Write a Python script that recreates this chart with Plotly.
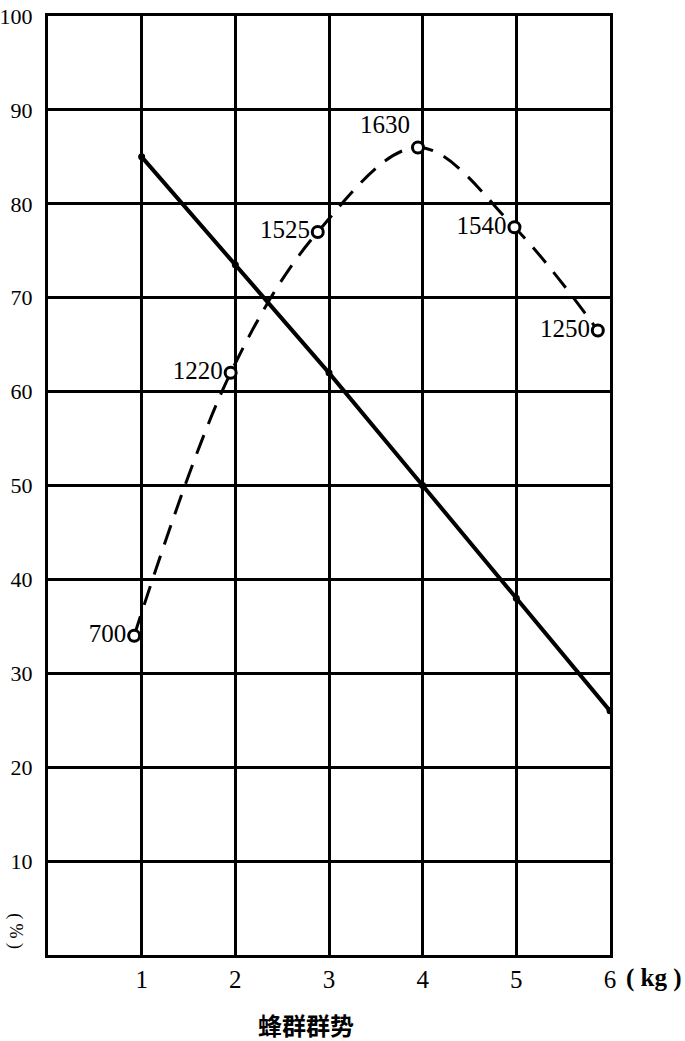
import plotly.graph_objects as go

# Solid line: straight decreasing series
solid_x = [1, 2, 3, 4, 5, 6]
solid_y = [85, 73.5, 62, 50, 38, 26]

# Dashed curve with labelled open circles
curve_x = [0.92, 1.95, 2.88, 3.95, 4.98, 5.87]
curve_y = [34, 62, 77, 86, 77.5, 66.5]
curve_labels = ["700", "1220", "1525", "1630", "1540", "1250"]
label_pos = ["middle left", "middle left", "middle left", "top left", "middle left", "middle left"]

x_ticks = [1, 2, 3, 4, 5, 6]
y_ticks = [10, 20, 30, 40, 50, 60, 70, 80, 90, 100]

SERIF = "Liberation Serif"

fig = go.Figure()

fig.add_trace(go.Scatter(
    x=solid_x, y=solid_y, mode="lines+markers",
    line=dict(color="black", width=4),
    marker=dict(color="black", size=7, symbol="circle"),
    showlegend=False, hoverinfo="skip",
))

fig.add_trace(go.Scatter(
    x=curve_x, y=curve_y, mode="lines",
    line=dict(color="black", width=3, dash="20px,12px", shape="spline", smoothing=1.0),
    showlegend=False, hoverinfo="skip",
))

fig.add_trace(go.Scatter(
    x=curve_x, y=curve_y, mode="markers+text",
    marker=dict(color="white", size=11, symbol="circle",
                line=dict(color="black", width=3)),
    text=curve_labels, textposition=label_pos,
    textfont=dict(family=SERIF, size=25, color="black"),
    showlegend=False, hoverinfo="skip", cliponaxis=False,
))

fig.update_xaxes(
    range=[0, 6], tickvals=x_ticks, ticktext=[str(v) for v in x_ticks],
    showgrid=True, gridcolor="black", gridwidth=3,
    showline=True, linecolor="black", linewidth=3, mirror=True,
    zeroline=False, ticks="", ticklabelstandoff=0, automargin=False,
    ticklabeloverflow="allow",
    tickfont=dict(family=SERIF, size=25, color="black"),
)
fig.update_yaxes(
    range=[0, 100], tickvals=y_ticks, ticktext=[str(v) for v in y_ticks],
    showgrid=True, gridcolor="black", gridwidth=3,
    showline=True, linecolor="black", linewidth=3, mirror=True,
    zeroline=False, ticks="", ticklabelstandoff=8, automargin=False,
    ticklabeloverflow="allow",
    tickfont=dict(family=SERIF, size=22, color="black"),
)

fig.add_annotation(
    x=6, y=0, xref="x", yref="y", text="<b>( kg )</b>", showarrow=False,
    xanchor="left", yanchor="middle", xshift=14, yshift=-23,
    font=dict(family=SERIF, size=25, color="black"),
)
fig.add_annotation(
    x=-0.058, y=2.5, xref="paper", yref="y", text="( % )", showarrow=False,
    xanchor="center", yanchor="middle",
    textangle=90, font=dict(family=SERIF, size=18, color="black"),
)
fig.add_annotation(
    x=2.75, y=-0.074, xref="x", yref="paper", text="<b>蜂群群势</b>", showarrow=False,
    xanchor="center", yanchor="middle",
    font=dict(family="Noto Sans CJK SC", size=24, color="black"),
)

fig.update_layout(
    width=685, height=1041,
    margin=dict(l=48, r=75, t=16, b=86, autoexpand=False),
    paper_bgcolor="white", plot_bgcolor="white",
)

fig.write_html("out.html", config={"displayModeBar": False},
               post_script="document.body.style.margin='0';")
